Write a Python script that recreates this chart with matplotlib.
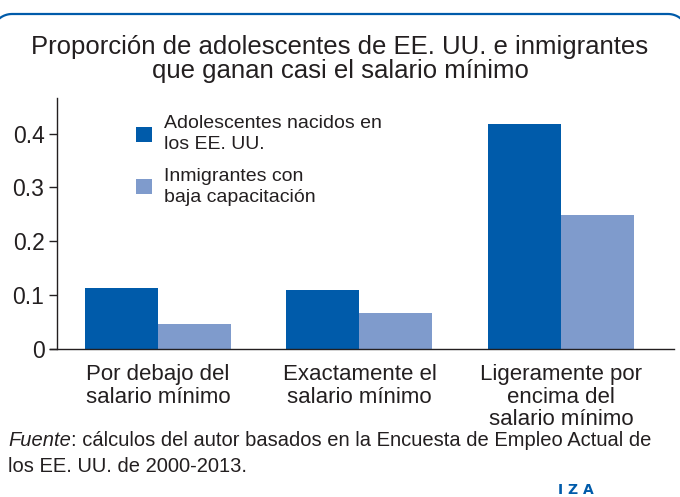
import matplotlib
matplotlib.use('Agg')
import matplotlib.pyplot as plt
from matplotlib.lines import Line2D
import numpy as np

plt.rcParams['font.family'] = ['Liberation Sans Narrow', 'Liberation Sans', 'DejaVu Sans']

# data
categories = ['Por debajo del\nsalario mínimo',
              'Exactamente el\nsalario mínimo',
              'Ligeramente por\nencima del\nsalario mínimo']
nativos = [0.113, 0.110, 0.417]
inmigrantes = [0.047, 0.067, 0.249]
series_labels = ['Adolescentes nacidos en\nlos EE. UU.',
                 'Inmigrantes con\nbaja capacitación']
yticks = [0, 0.1, 0.2, 0.3, 0.4]
ytick_labels = ['0', '0.1', '0.2', '0.3', '0.4']

DARK = '#005BAA'
LIGHT = '#7F9BCC'
TXT = '#231F20'
W, H = 680, 497

fig = plt.figure(figsize=(W / 100, H / 100), dpi=100)
fig.patch.set_facecolor('white')

# rounded top frame, built in pixel units (y down) and drawn in figure coords
r, top, xl, xr = 20, 14, -8, W + 8
a1 = np.linspace(np.pi, np.pi / 2, 20)
a2 = np.linspace(np.pi / 2, 0, 20)
fx_pts = np.concatenate([[xl], xl + r + r * np.cos(a1), xr - r + r * np.cos(a2), [xr]])
fy_pts = np.concatenate([[H + 10], top + r - r * np.sin(a1), top + r - r * np.sin(a2), [H + 10]])
fig.add_artist(Line2D(fx_pts / W, 1 - fy_pts / H, transform=fig.transFigure,
                      color=DARK, linewidth=1.6))

ax = fig.add_axes([57 / W, 1 - 349 / H, (674 - 57) / W, (349 - 98) / H])
x = np.arange(len(categories))
w = 0.362
ax.bar(x - w/2, nativos, width=w, color=DARK, label=series_labels[0])
ax.bar(x + w/2, inmigrantes, width=w, color=LIGHT, label=series_labels[1])

ax.set_xlim(-0.5, 2.56)
ax.set_ylim(0, 0.466)
ax.set_yticks(yticks)
ax.set_yticklabels(ytick_labels)
ax.set_xticks(x)
ax.set_xticklabels(categories, linespacing=1.1)
ax.tick_params(axis='y', direction='out', length=6, width=1, color=TXT,
               labelsize=16.5, labelcolor=TXT, pad=3)
ax.tick_params(axis='x', length=0, labelsize=16, labelcolor=TXT, pad=11)
for s in ['top', 'right']:
    ax.spines[s].set_visible(False)
for s in ['left', 'bottom']:
    ax.spines[s].set_color(TXT)
    ax.spines[s].set_linewidth(1)
ax.spines['bottom'].set_bounds(-0.535, 2.56)

ax.legend(loc='upper left', bbox_to_anchor=(0.1, 1.0), frameon=False,
          fontsize=14, handlelength=0.8, handleheight=0.8, handletextpad=0.65,
          labelspacing=0.75, labelcolor=TXT)
for t in ax.get_legend().get_texts():
    t.set_linespacing(1.3)

fig.text(0.5, 1 - 59 / H, 'Proporción de adolescentes de EE. UU. e inmigrantes\nque ganan casi el salario mínimo',
         ha='center', va='center', fontsize=18.5, color=TXT, linespacing=1.05)

# footnote
fx, fy = 8 / W, 1 - 441 / H
t1 = fig.text(fx, fy, 'Fuente', style='italic', fontsize=14.5, color=TXT, va='center')
fig.canvas.draw()
bb = t1.get_window_extent(fig.canvas.get_renderer())
fig.text(bb.x1 / fig.bbox.width, fy,
         ': cálculos del autor basados en la Encuesta de Empleo Actual de',
         fontsize=14.5, color=TXT, va='center')
fig.text(fx, 1 - 467 / H, 'los EE. UU. de 2000-2013.', fontsize=14.5, color=TXT, va='center')

fig.text(576 / W, 1 - 490 / H, 'I Z A', fontsize=10, fontweight='bold', color=DARK,
         ha='center', va='center', family='DejaVu Sans')

fig.savefig('out.png', dpi=100, facecolor='white')
